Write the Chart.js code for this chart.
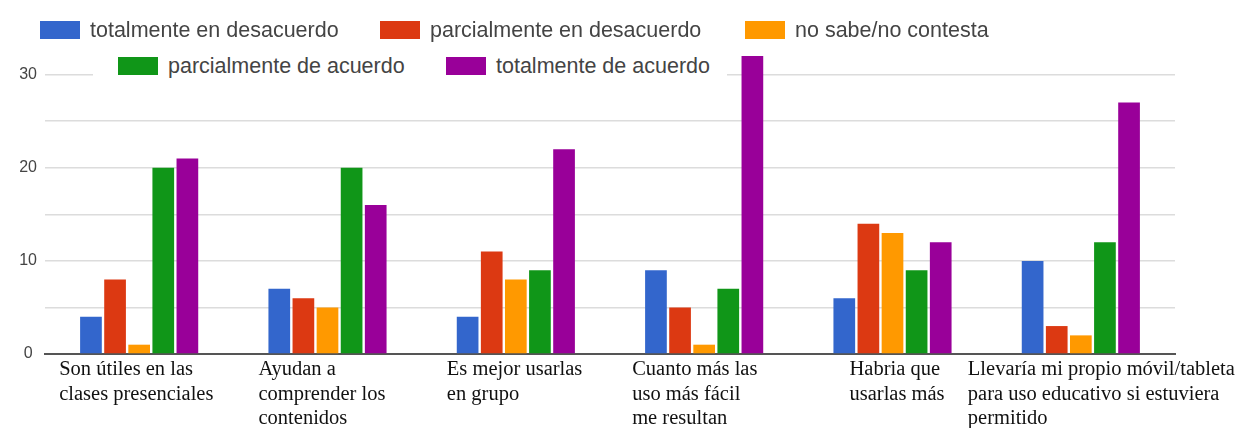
<!DOCTYPE html>
<html>
<head>
<meta charset="utf-8">
<script src="https://cdn.jsdelivr.net/npm/chart.js@4.4.1/dist/chart.umd.min.js"></script>
<style>
    body { margin: 0; background: #fff; }
    #wrap { position: relative; width: 1235px; height: 428px; }
    #legend { position: absolute; left: 0; top: 0; }
    #band { position: absolute; left: 93px; top: 49px; width: 634px; height: 34px; background: #fff; }
    .item { position: absolute; display: flex; align-items: center;
            font: 21.5px "Liberation Sans", Arial, sans-serif; color: #444; white-space: nowrap; height: 30px; }
    .item span.box { display: inline-block; width: 40px; height: 18px; margin-right: 10px; }
</style>
</head>
<body>
<div id="wrap">
    <canvas id="chart"></canvas>
    <div id="legend"><div id="band"></div></div>
</div>
<script>
const categories = [
    ['Son útiles en las', 'clases presenciales'],
    ['Ayudan a', 'comprender los', 'contenidos'],
    ['Es mejor usarlas', 'en grupo'],
    ['Cuanto más las', 'uso más fácil', 'me resultan'],
    ['Habria que', 'usarlas más'],
    ['Llevaría mi propio móvil/tableta', 'para uso educativo si estuviera', 'permitido']
];
const seriesNames = ['totalmente en desacuerdo', 'parcialmente en desacuerdo', 'no sabe/no contesta',
    'parcialmente de acuerdo', 'totalmente de acuerdo'];
const totDesacuerdo = [4, 7, 4, 9, 6, 10];
const parcDesacuerdo = [8, 6, 11, 5, 14, 3];
const noSabe = [1, 5, 8, 1, 13, 2];
const parcAcuerdo = [20, 20, 9, 7, 9, 12];
const totAcuerdo = [21, 16, 22, 32, 12, 27];
const yTickLabels = [0, 10, 20, 30];

const colors = ['#3366cc', '#dc3912', '#ff9900', '#109618', '#990099'];
// where each legend entry sits (left, top) and how far each x label starts from its category centre
const legendPos = [[40, 15], [380, 15], [745, 15], [118, 51], [446, 51]];
const labelShift = [-80, -69, -69, -72, -43, -113];

const series = [totDesacuerdo, parcDesacuerdo, noSabe, parcAcuerdo, totAcuerdo];

const xLabels = {
    id: 'xLabels',
    afterDraw(chart) {
        const ctx = chart.ctx;
        const x = chart.scales.x;
        ctx.save();
        ctx.font = '20.5px "Liberation Serif", "Times New Roman", serif';
        ctx.fillStyle = '#111';
        ctx.textAlign = 'left';
        ctx.textBaseline = 'alphabetic';
        categories.forEach((lines, i) => {
            const px = x.getPixelForValue(i) + labelShift[i];
            lines.forEach((t, k) => ctx.fillText(t, px, 375 + k * 24.5));
        });
        ctx.restore();
    }
};

const chart = new Chart(document.getElementById('chart'), {
    type: 'bar',
    data: {
        labels: categories.map(c => c.join(' ')),
        datasets: series.map((d, i) => ({
            label: seriesNames[i],
            data: d,
            backgroundColor: colors[i],
            borderWidth: 0,
            categoryPercentage: 0.64,
            barPercentage: 0.9
        }))
    },
    options: {
        responsive: true,
        maintainAspectRatio: false,
        animation: false,
        layout: {padding: {top: 56, right: 60, bottom: 74, left: 0}},
        plugins: {
            legend: {display: false},
            title: {display: false},
            tooltip: {enabled: false}
        },
        scales: {
            x: {
                ticks: {display: false},
                grid: {display: false, drawTicks: false},
                border: {display: true, color: '#555', width: 2}
            },
            y: {
                min: 0,
                max: 32,
                afterFit: s => { s.width = 45; },
                border: {display: false},
                grid: {color: '#dcdcdc', lineWidth: 1.5, drawTicks: false},
                ticks: {
                    stepSize: 5,
                    includeBounds: false,
                    padding: 8,
                    crossAlign: 'center',
                    color: '#444',
                    font: {family: '"Liberation Sans", Arial, sans-serif', size: 16},
                    callback: v => yTickLabels.includes(v) ? String(v) : ''
                }
            }
        }
    },
    plugins: [xLabels]
});

const legend = document.getElementById('legend');
seriesNames.forEach((name, i) => {
    const el = document.createElement('div');
    el.className = 'item';
    el.style.left = legendPos[i][0] + 'px';
    el.style.top = legendPos[i][1] + 'px';
    el.innerHTML = '<span class="box" style="background:' + colors[i] + '"></span>' + name;
    legend.appendChild(el);
});
</script>
</body>
</html>
